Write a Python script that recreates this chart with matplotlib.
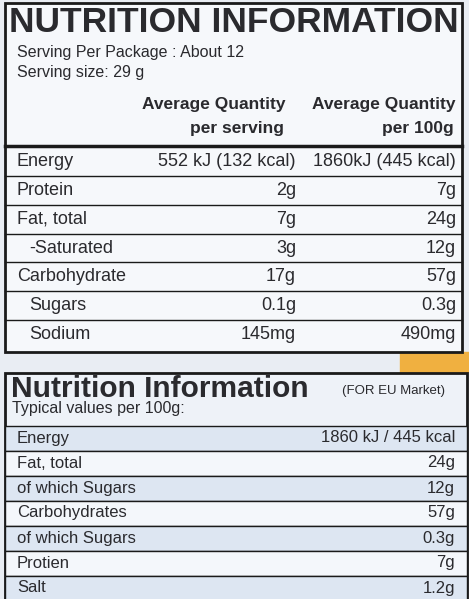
import matplotlib
matplotlib.use("Agg")
import matplotlib.pyplot as plt
from matplotlib.patches import Rectangle

# Data
top_nutrients = ["Energy", "Protein", "Fat, total", "-Saturated", "Carbohydrate", "Sugars", "Sodium"]
top_indent = [0, 0, 0, 1, 0, 1, 1]
per_serving = ["552 kJ (132 kcal)", "2g", "7g", "3g", "17g", "0.1g", "145mg"]
per_100g = ["1860kJ (445 kcal)", "7g", "24g", "12g", "57g", "0.3g", "490mg"]
eu_nutrients = ["Energy", "Fat, total", "of which Sugars", "Carbohydrates", "of which Sugars", "Protien", "Salt"]
eu_values = ["1860 kJ / 445 kcal", "24g", "12g", "57g", "0.3g", "7g", "1.2g"]

W, H = 469, 599
fig = plt.figure(figsize=(W/100, H/100), dpi=100)
fig.patch.set_facecolor("#e9edf3")
ax = fig.add_axes([0, 0, 1, 1])
ax.set_xlim(0, W); ax.set_ylim(H, 0); ax.axis("off")
txt = "#2a2a2e"
fam = "Liberation Sans"

# Gap streak
ax.add_patch(Rectangle((400, 352), 69, 20, color="#f0b040", zorder=0))

# Top panel
ax.add_patch(Rectangle((5, 3), 457, 349, facecolor="#f6f8fb", edgecolor="#1a1a1a", lw=2, zorder=1))
ax.text(234, 23, "NUTRITION INFORMATION", ha="center", va="center", fontsize=25.5, fontweight="bold", color=txt, family=fam, zorder=3)
ax.text(17, 52, "Serving Per Package : About 12", ha="left", va="center", fontsize=11.5, color=txt, family=fam, zorder=3)
ax.text(17, 72, "Serving size: 29 g", ha="left", va="center", fontsize=11.5, color=txt, family=fam, zorder=3)
for x, l1, l2 in [(286, "Average Quantity", "per serving"), (456, "Average Quantity", "per 100g")]:
    ax.text(x, 104, l1, ha="right", va="center", fontsize=12.5, fontweight="bold", color=txt, family=fam, zorder=3)
    ax.text(x - 2, 129, l2, ha="right", va="center", fontsize=12.5, fontweight="bold", color=txt, family=fam, zorder=3)
ax.plot([5, 462], [146, 146], color="#1a1a1a", lw=2.5, zorder=2)
y0, dy = 162, 28.7
for i, (n, ind, s, g) in enumerate(zip(top_nutrients, top_indent, per_serving, per_100g)):
    y = y0 + i*dy
    ax.text(17 + 12*ind, y, n, ha="left", va="center", fontsize=13, color=txt, family=fam, zorder=3)
    ax.text(296, y, s, ha="right", va="center", fontsize=13, color=txt, family=fam, zorder=3)
    ax.text(456, y, g, ha="right", va="center", fontsize=13, color=txt, family=fam, zorder=3)
    if i < len(top_nutrients) - 1:
        ax.plot([5, 462], [y + dy/2, y + dy/2], color="#1a1a1a", lw=1, zorder=2)

# Bottom panel
ax.add_patch(Rectangle((5, 373), 462, 226, facecolor="#eef2f8", edgecolor="#1a1a1a", lw=2, zorder=1))
ax.text(11, 389, "Nutrition Information", ha="left", va="center", fontsize=21.5, fontweight="bold", color=txt, family=fam, zorder=3)
ax.text(342, 391, "(FOR EU Market)", ha="left", va="center", fontsize=9.5, color=txt, family=fam, zorder=3)
ax.text(12, 409, "Typical values per 100g:", ha="left", va="center", fontsize=11.5, color=txt, family=fam, zorder=3)
y0, dy = 438, 25
for i, (n, v) in enumerate(zip(eu_nutrients, eu_values)):
    y = y0 + i*dy
    ax.add_patch(Rectangle((5, y - dy/2), 462, dy, facecolor="#dde6f2" if i % 2 == 0 else "#f4f7fb",
                           edgecolor="#1a1a1a", lw=1, zorder=1.5))
    ax.text(17, y, n, ha="left", va="center", fontsize=12, color=txt, family=fam, zorder=3)
    ax.text(455, y, v, ha="right", va="center", fontsize=12, color=txt, family=fam, zorder=3)

fig.savefig("out.png", dpi=100)
